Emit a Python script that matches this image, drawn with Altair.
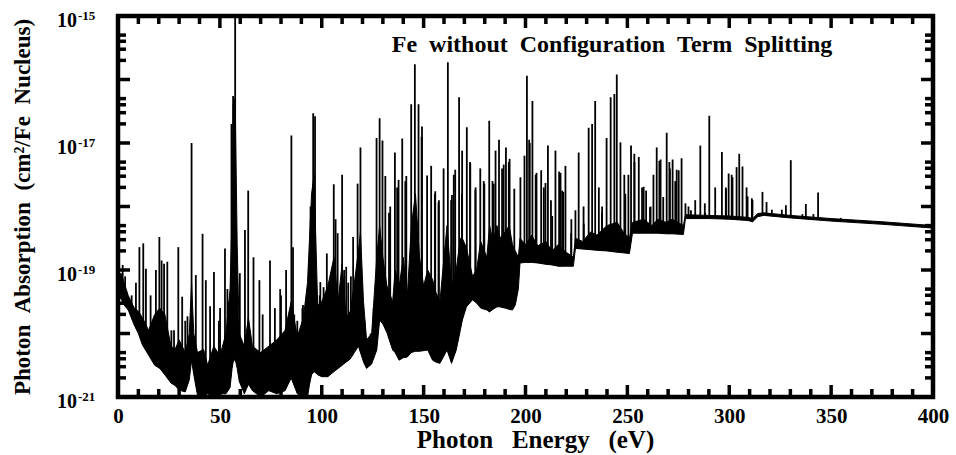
import altair as alt
import numpy as np
import pandas as pd

# Dense forest of overlapping lines: energy (eV) with lower and upper edge,
# both given as log10 of the cross section (cm^2 per Fe nucleus)
band_energy = [0.0, 1.5, 3.0, 5.0, 8.0, 10.0, 12.0, 15.0, 18.0, 20.5, 23.0, 26.0, 28.0,
               30.0, 33.0, 35.0, 36.1, 37.2, 39.0, 42.0, 44.0, 47.0, 50.0, 53.0, 55.0,
               56.0, 56.5, 57.5, 58.5, 59.5, 62.0, 64.0, 66.0, 70.0, 74.0, 78.0, 82.0,
               85.0, 88.0, 91.0, 93.0, 94.0, 95.0, 96.2, 97.0, 98.0, 100.0, 103.0, 106.0,
               108.0, 110.0, 112.0, 114.0, 116.0, 118.0, 119.0, 120.5, 122.0, 124.5, 127.0,
               128.4, 130.0, 132.0, 134.8, 136.0, 138.0, 140.0, 142.0, 144.0, 146.0, 148.0,
               150.0, 152.0, 154.4, 156.0, 158.0, 160.0, 161.5, 163.7, 166.0, 168.0, 169.0,
               171.0, 174.0, 176.0, 178.0, 181.0, 182.4, 184.0, 186.0, 187.3, 190.0, 192.0,
               193.6, 195.0, 196.5, 197.3, 200.0, 203.0, 206.0, 210.0, 213.0, 216.0, 220.0,
               223.5, 224.5, 228.0, 232.0, 235.0, 240.0, 245.0, 248.0, 251.0, 252.5, 258.0,
               262.0, 265.0, 269.0, 272.0, 277.5, 278.5, 290.0, 300.0, 309.0, 311.5, 314.0,
               317.0, 330.0, 350.0, 375.0, 400.0]
band_low = [-19.45, -19.45, -19.55, -19.63, -19.87, -20.0, -20.18, -20.34, -20.5, -20.55,
            -20.65, -20.78, -20.82, -20.89, -20.92, -20.73, -20.42, -20.65, -20.97, -21.0,
            -20.95, -21.0, -20.95, -20.95, -20.85, -20.55, -20.45, -20.4, -20.55, -20.75,
            -20.95, -20.8, -20.9, -21.0, -20.9, -20.95, -20.9, -20.7, -20.95, -21.0, -21.0,
            -20.8, -20.65, -20.6, -20.62, -20.65, -20.68, -20.68, -20.6, -20.55, -20.5,
            -20.45, -20.4, -20.3, -20.2, -20.3, -20.45, -20.55, -20.48, -20.26, -19.79,
            -19.85, -19.99, -20.26, -20.3, -20.42, -20.38, -20.37, -20.3, -20.28, -20.28,
            -20.27, -20.26, -20.42, -20.45, -20.47, -20.35, -20.26, -20.47, -20.26, -19.95,
            -19.79, -19.58, -19.47, -19.52, -19.6, -19.63, -19.66, -19.62, -19.58, -19.58,
            -19.6, -19.62, -19.63, -19.55, -19.3, -18.89, -18.88, -18.88, -18.89, -18.91,
            -18.92, -18.94, -18.94, -18.94, -18.66, -18.67, -18.68, -18.69, -18.7, -18.72,
            -18.73, -18.74, -18.42, -18.42, -18.42, -18.42, -18.43, -18.43, -18.44, -18.19,
            -18.19, -18.2, -18.22, -18.24, -18.16, -18.14, -18.18, -18.23, -18.28, -18.34]
band_high = [-19.1, -19.05, -19.2, -19.4, -19.6, -19.65, -19.75, -19.95, -19.7, -19.6,
             -19.7, -20.2, -20.25, -20.1, -20.3, -20.0, -19.2, -20.0, -20.3, -20.25, -20.5,
             -20.2, -20.35, -20.0, -19.3, -18.1, -16.4, -16.3, -18.6, -20.0, -20.2,
             -19.75, -20.2, -20.3, -20.2, -20.1, -19.95, -19.5, -20.05, -19.75, -19.2,
             -18.5, -17.8, -17.5, -18.4, -19.55, -19.5, -19.25, -18.8, -19.5, -18.9,
             -19.75, -19.65, -19.2, -18.7, -18.4, -19.5, -20.1, -20.0, -18.8, -18.3,
             -18.8, -19.25, -19.5, -19.0, -19.25, -18.8, -19.4, -18.3, -17.8, -18.8,
             -19.25, -19.0, -19.15, -19.35, -19.5, -18.8, -18.3, -19.25, -19.0, -18.5,
             -18.5, -18.65, -19.1, -19.0, -18.55, -18.8, -18.3, -18.55, -18.3, -18.5,
             -18.4, -18.3, -18.6, -18.7, -18.8, -18.5, -18.6, -18.45, -18.62, -18.55,
             -18.7, -18.6, -18.72, -18.8, -18.5, -18.55, -18.4, -18.45, -18.3, -18.25,
             -18.4, -18.5, -18.25, -18.2, -18.3, -18.2, -18.25, -18.2, -18.3, -18.13,
             -18.14, -18.15, -18.17, -18.19, -18.11, -18.1, -18.14, -18.19, -18.24, -18.3]

# Resolved absorption lines: energy (eV) and peak height (log10 cm^2)
line_energy = [2.3, 3.5, 6.7, 8.8, 10.5, 12.4, 13.7, 16.0, 18.6, 20.3, 21.4, 22.6, 24.2,
               26.2, 27.5, 29.6, 31.5, 33.0, 34.1, 36.1, 38.2, 41.5, 43.1, 45.2, 47.1, 49.5,
               50.1, 52.5, 53.7, 54.0, 55.7, 56.5, 57.5, 59.8, 62.3, 63.9, 66.5, 69.4, 71.0,
               74.6, 77.0, 79.6, 80.0, 82.5, 85.1, 85.9, 86.5, 88.0, 90.5, 90.8, 93.8, 94.5,
               95.8, 96.7, 99.0, 99.3, 100.5, 100.9, 102.5, 104.5, 105.9, 106.8, 107.8, 110.0,
               111.0, 112.0, 113.0, 114.3, 115.4, 117.6, 119.0, 121.0, 124.0, 125.5, 126.9,
               128.4, 129.8, 131.2, 133.0, 133.6, 135.9, 137.0, 137.7, 139.5, 141.0, 141.5,
               143.9, 145.7, 147.5, 149.0, 149.2, 151.7, 153.7, 155.5, 155.7, 157.3, 157.5,
               159.8, 161.9, 163.5, 163.9, 164.8, 165.5, 167.4, 168.8, 168.9, 171.2, 172.8,
               172.9, 175.4, 175.5, 177.8, 179.5, 179.8, 182.2, 183.8, 184.4, 185.3, 187.0,
               188.5, 189.3, 190.4, 191.8, 192.2, 194.5, 197.5, 199.5, 200.7, 201.8, 202.1,
               203.4, 205.0, 205.4, 207.7, 209.0, 209.8, 211.0, 212.5, 213.1, 214.7, 216.5,
               217.2, 218.0, 218.5, 219.6, 222.4, 222.5, 224.5, 226.1, 228.5, 228.6, 231.0,
               232.7, 234.2, 236.0, 237.5, 237.6, 239.8, 241.8, 243.6, 244.8, 246.6, 248.5,
               249.0, 250.5, 251.8, 253.4, 253.5, 255.6, 257.2, 258.0, 259.2, 261.1, 261.4,
               262.8, 264.4, 265.7, 266.3, 267.6, 269.3, 270.6, 270.9, 272.2, 273.5, 274.2,
               275.2, 276.6, 278.5, 280.0, 281.2, 283.3, 285.8, 288.0, 288.2, 290.2, 293.1,
               296.4, 298.3, 298.4, 299.7, 301.2, 301.6, 303.6, 304.9, 306.5, 308.5, 309.0,
               311.1, 311.4, 316.3, 318.3, 320.9, 325.8, 327.8, 330.2, 335.9, 337.6, 341.3,
               343.6, 354.7]
line_peak = [-18.92, -19.1, -19.4, -19.2, -18.64, -18.58, -18.98, -19.4, -19.0, -18.48,
             -18.85, -18.9, -18.87, -19.95, -19.95, -18.64, -19.42, -19.8, -19.73, -17.0,
             -19.08, -18.43, -19.16, -19.57, -19.03, -19.8, -19.6, -18.66, -19.3, -19.5,
             -16.7, -16.26, -15.0, -19.05, -18.37, -17.75, -18.8, -19.16, -19.7, -18.85,
             -19.6, -19.3, -19.4, -19.0, -16.88, -18.64, -19.7, -19.8, -19.6, -19.55,
             -18.9, -18.0, -16.53, -16.58, -19.4, -19.19, -19.5, -19.27, -18.74, -19.3,
             -17.65, -18.2, -18.42, -17.5, -19.0, -18.95, -19.2, -19.1, -18.48, -17.64,
             -17.07, -19.8, -20.0, -19.6, -16.92, -16.61, -16.96, -17.52, -18.1, -18.0,
             -17.15, -17.7, -17.58, -16.93, -17.6, -17.52, -16.39, -15.76, -16.39, -16.9,
             -16.74, -17.51, -17.36, -17.8, -17.76, -17.94, -17.9, -17.4, -15.73, -17.9,
             -17.82, -17.5, -17.42, -16.28, -17.8, -17.12, -16.75, -17.3, -17.32, -17.74,
             -17.7, -17.4, -17.6, -17.64, -16.65, -17.6, -17.64, -17.12, -16.95, -17.4,
             -17.34, -17.07, -17.3, -17.25, -17.72, -17.54, -17.2, -15.94, -16.95, -17.0,
             -16.34, -17.5, -17.47, -17.43, -17.7, -17.63, -17.04, -17.9, -18.15, -17.12,
             -17.45, -17.47, -17.75, -17.77, -17.36, -18.42, -18.2, -18.06, -17.15, -18.0,
             -18.27, -16.76, -16.7, -16.34, -17.7, -18.1, -18.0, -16.92, -16.28, -16.23,
             -15.92, -16.99, -17.5, -17.8, -17.5, -17.04, -17.17, -17.3, -17.22, -17.7,
             -17.69, -17.75, -18.01, -18.0, -17.5, -17.07, -17.28, -17.26, -17.85, -16.84,
             -17.3, -17.4, -17.26, -17.6, -17.42, -17.43, -17.24, -17.95, -18.0, -18.06,
             -17.9, -17.04, -17.95, -18.1, -16.57, -17.7, -17.14, -17.7, -17.72, -17.48,
             -17.5, -17.54, -17.38, -17.17, -17.37, -17.7, -17.84, -17.87, -17.9, -17.77,
             -17.93, -18.05, -18.05, -17.98, -17.27, -18.12, -17.96, -18.12, -17.78, -18.18]

# Axis ticks and labels
x_major = list(range(0, 401, 50))
x_minor = [v for v in range(0, 401, 10) if v % 50]
y_decades = [-21, -20, -19, -18, -17, -16, -15]
y_minor_mult = [2, 3, 4, 5]
y_label_exp = [-21, -19, -17, -15]

W, H = 815, 381
FONT = "Liberation Serif"
SP = "\u00a0\u00a0"

band = pd.DataFrame({"E": band_energy, "lo": band_low, "hi": band_high})
lines = pd.DataFrame({"E": line_energy, "peak": line_peak})
y_minor = [d + np.log10(m) for d in y_decades[:-1] for m in y_minor_mult]

x_scale = alt.Scale(domain=[0, 400], nice=False, zero=False)
y_scale = alt.Scale(domain=[-21, -15], nice=False, zero=False)

x_axis = alt.Axis(values=x_major, domain=False, ticks=False, grid=False, labelFlush=False,
                  labelFont=FONT, labelFontSize=21, labelFontWeight="bold", labelColor="black",
                  labelPadding=8, title="\u00a0\u00a0\u00a0".join(["Photon", "Energy", "(eV)"]),
                  titleFont=FONT, titleFontSize=25, titleFontWeight="bold", titleColor="black",
                  titlePadding=1, titleX=417)
y_axis = alt.Axis(labels=False, domain=False, ticks=False, grid=False,
                  title=SP.join(["Photon", "Absorption", "(cm\u00b2/Fe", "Nucleus)"]),
                  titleFont=FONT, titleFontSize=23, titleFontWeight="bold", titleColor="black",
                  titlePadding=84)


def X(field):
    return alt.X(field, type="quantitative", scale=x_scale, axis=x_axis)


def Y(field):
    return alt.Y(field, type="quantitative", scale=y_scale, axis=y_axis)


# spikes run down to the floor; the white mask below the continuum trims them
spikes = alt.Chart(lines).mark_rule(color="black", strokeWidth=1.8, clip=True).encode(
    x=X("E"), y=Y("peak"), y2=alt.datum(-21))
mask = alt.Chart(band).mark_area(color="white", clip=True).encode(
    x=X("E"), y=Y("lo"), y2=alt.datum(-21))
forest = alt.Chart(band).mark_area(color="black", clip=True, stroke="black", strokeWidth=1).encode(
    x=X("E"), y=Y("lo"), y2="hi:Q")


def xticks(values, length, width):
    df = pd.DataFrame({"v": values})
    bottom = alt.Chart(df).mark_rule(color="black", strokeWidth=width).encode(
        x=X("v"), y=alt.value(H), y2=alt.value(H - length))
    top = alt.Chart(df).mark_rule(color="black", strokeWidth=width).encode(
        x=X("v"), y=alt.value(0), y2=alt.value(length))
    return [bottom, top]


def yticks(values, length, width):
    df = pd.DataFrame({"v": values})
    left = alt.Chart(df).mark_rule(color="black", strokeWidth=width).encode(
        y=Y("v"), x=alt.value(0), x2=alt.value(length))
    right = alt.Chart(df).mark_rule(color="black", strokeWidth=width).encode(
        y=Y("v"), x=alt.value(W), x2=alt.value(W - length))
    return [left, right]


frame = alt.Chart(pd.DataFrame({"k": [0]})).mark_rect(
    fillOpacity=0, stroke="black", strokeWidth=4.5).encode(
    x=alt.value(0), x2=alt.value(W), y=alt.value(0), y2=alt.value(H))

ylab = pd.DataFrame({"e": y_label_exp, "base": ["10"] * 4,
                     "sup": ["-" + str(-e) for e in y_label_exp]})
ten = alt.Chart(ylab).mark_text(font=FONT, fontSize=20, fontWeight="bold", align="right",
                                baseline="middle", dy=5, color="black").encode(
    y=Y("e"), x=alt.value(-41), text="base:N")
sup = alt.Chart(ylab).mark_text(font=FONT, fontSize=13, fontWeight="bold", align="left",
                                baseline="middle", dy=0, color="black").encode(
    y=Y("e"), x=alt.value(-40), text="sup:N")

title = alt.Chart(pd.DataFrame({"t": [SP.join(["Fe", "without", "Configuration", "Term", "Splitting"])]})).mark_text(
    font=FONT, fontSize=24, fontWeight="bold", align="center", baseline="middle", color="black").encode(
    x=alt.value(494), y=alt.value(29), text="t:N")

layers = [spikes, mask, forest] + xticks(x_minor, 8, 3.5) + xticks(x_major, 12, 3.5) \
    + yticks(y_minor, 8, 3.5) + yticks(y_decades, 12, 3.5) + [frame, ten, sup, title]

chart = alt.layer(*layers).properties(
    width=W, height=H, autosize=alt.AutoSizeParams(type="none"),
    padding={"left": 118, "top": 16, "right": 23, "bottom": 58},
).configure_view(stroke=None)

chart.save("out.html", embed_options={"renderer": "svg", "actions": False})
